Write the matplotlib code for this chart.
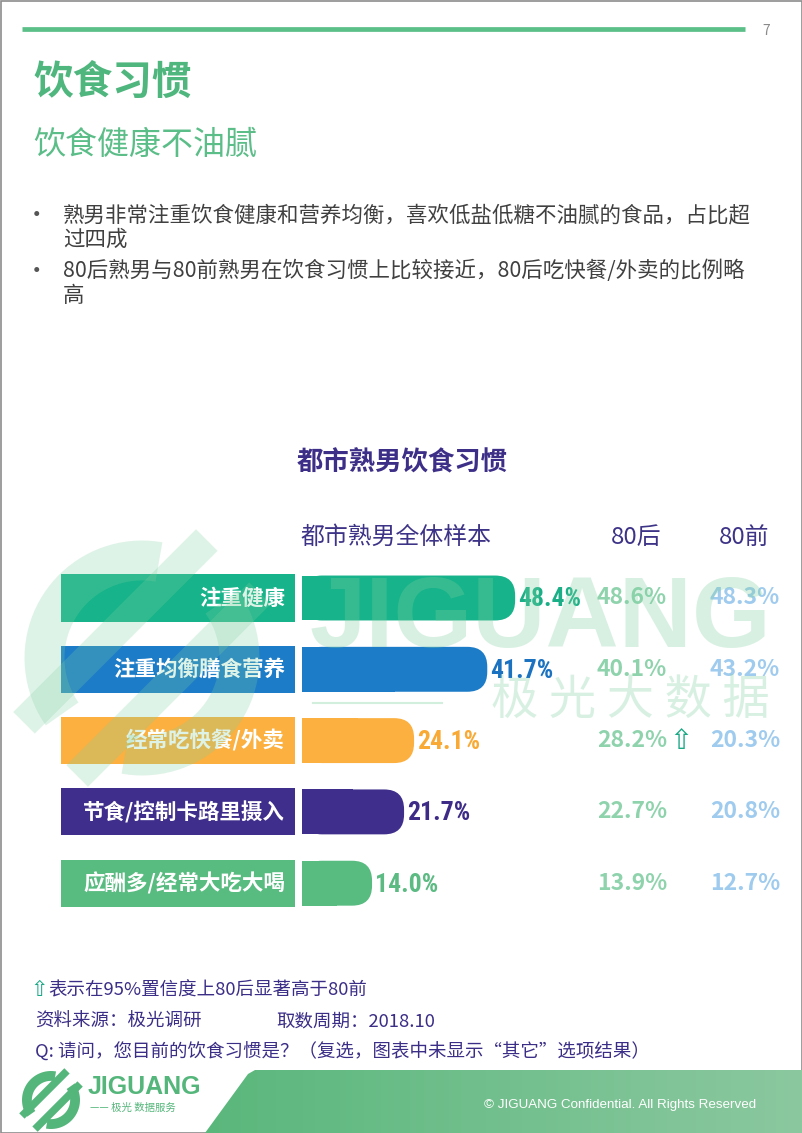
import numpy as np
import matplotlib
matplotlib.use("Agg")
import matplotlib.pyplot as plt
from matplotlib import font_manager as fm
from matplotlib import transforms as mtransforms
from matplotlib.patches import FancyBboxPatch, Rectangle, Polygon

# ---- data ----
categories = ["注重健康", "注重均衡膳食营养", "经常吃快餐/外卖", "节食/控制卡路里摄入", "应酬多/经常大吃大喝"]
total = [48.4, 41.7, 24.1, 21.7, 14.0]
post80 = [48.6, 40.1, 28.2, 22.7, 13.9]
pre80 = [48.3, 43.2, 20.3, 20.8, 12.7]
significant = [False, False, True, False, False]
bar_colors = ["#17b38a", "#1c7cc7", "#fbb040", "#3f2e8b", "#58bb80"]
value_colors = ["#1aaf87", "#1a72c1", "#f8aa35", "#3d2b87", "#5cba83"]

bullets = [["熟男非常注重饮食健康和营养均衡，喜欢低盐低糖不油腻的食品，占比超", "过四成"],
           ["80后熟男与80前熟男在饮食习惯上比较接近，80后吃快餐/外卖的比例略", "高"]]
headers = ["都市熟男全体样本", "80后", "80前"]
notes = ["表示在95%置信度上80后显著高于80前", "资料来源：极光调研", "取数周期：2018.10",
         "Q: 请问，您目前的饮食习惯是？（复选，图表中未显示“其它”选项结果）"]

W, H = 802, 1133
CJK = ["Noto Sans CJK SC", "DejaVu Sans"]
plt.rcParams["font.family"] = CJK


def pick_font(cands):
    for c in cands:
        try:
            fm.findfont(fm.FontProperties(family=c), fallback_to_default=False)
            return c
        except ValueError:
            pass
    return "DejaVu Sans"


NARROW = pick_font(["Roboto Condensed", "Liberation Sans Narrow", "DejaVu Sans Condensed", "Liberation Sans"])

fig = plt.figure(figsize=(W / 100, H / 100), dpi=100)
page = fig.add_axes([0, 0, 1, 1])
page.set_xlim(0, W); page.set_ylim(H, 0); page.axis("off")

# page frame + header rule
page.add_patch(Rectangle((0.5, 0.5), W - 1, H - 1, fill=False, ec="#8c8c8c", lw=1.2))
page.plot([22, 745], [29, 29], color="#5bbf88", lw=3.4, solid_capstyle="butt")
page.text(766, 31, "7", ha="center", va="center", fontsize=10, color="#8a8a8a")

page.text(33, 82, "饮食习惯", fontsize=28.5, weight=900, color="#4fb67e", va="center")
page.text(33, 145, "饮食健康不油腻", fontsize=23, color="#5bbd87", va="center")

y = 215
for lines in bullets:
    page.text(37, y, "•", fontsize=17, color="#555555", va="center", ha="center")
    for ln in lines:
        page.text(63, y, ln, fontsize=15.45, color="#404040", va="center")
        y += 25
    y += 6

page.text(402, 463, "都市熟男饮食习惯", fontsize=19, weight=900, color="#3d2f88",
          ha="center", va="center")
page.text(300, 537, headers[0], fontsize=17.2, color="#3d3387", va="center")
page.text(636, 537, headers[1], fontsize=17.2, color="#3d3387", va="center", ha="center")
page.text(744, 537, headers[2], fontsize=17.2, color="#3d3387", va="center", ha="center")

# ---- chart axes: x in %, y in rows ----
ROW0, PITCH = 598, 71.3
ZERO_PX, PX_PER_PCT, BAR_START_PX = 313.8, 4.16, 302
top_px = ROW0 - 0.5 * PITCH
n = len(categories)
chart = fig.add_axes([0, 1 - (top_px + n * PITCH) / H, 1, n * PITCH / H], zorder=2)
chart.patch.set_alpha(0)
chart.set_xlim(-ZERO_PX / PX_PER_PCT, (W - ZERO_PX) / PX_PER_PCT)
chart.set_ylim(n - 0.5, -0.5)
chart.axis("off")
base = (BAR_START_PX - ZERO_PX) / PX_PER_PCT
bar_h, box_h = 0.63, 0.66
aspect = PX_PER_PCT / PITCH
ypos = np.arange(n)

chart.barh(ypos, [(v - base) / 2 for v in total], left=base, height=bar_h, color=bar_colors)
for i, v in enumerate(total):
    chart.add_patch(FancyBboxPatch((base, i - bar_h / 2), v - base, bar_h,
                                   boxstyle="round,pad=0,rounding_size=4.8",
                                   mutation_aspect=aspect, fc=bar_colors[i], ec="none"))
    chart.text(v + 0.8, i + 0.02, f"{v:.1f}%", fontsize=18.5, weight="bold", family=NARROW,
               fontstretch="condensed", color=value_colors[i], ha="left", va="center")

blend = mtransforms.blended_transform_factory(page.transData, chart.transData)
for i, cat in enumerate(categories):
    chart.add_patch(Rectangle((61, i - box_h / 2), 234, box_h, transform=blend,
                              fc=bar_colors[i], ec="none", clip_on=False))
    chart.text(285, i, cat, transform=blend, fontsize=15.5, weight="bold", color="white",
               ha="right", va="center")
    chart.text(632, i, f"{post80[i]:.1f}%", transform=blend, fontsize=16.5, weight="bold",
               color="#8fd3ad", ha="center", va="center")
    chart.text(745, i, f"{pre80[i]:.1f}%", transform=blend, fontsize=16.5, weight="bold",
               color="#9fcbee", ha="center", va="center")
    if significant[i]:
        chart.text(681, i, "⇧", transform=blend, fontsize=20, color="#1aa985",
                   family="DejaVu Sans", ha="center", va="center")


# ---- logo shapes ----
def logo_polys(cx, cy, s):
    out = []
    for a0 in (80, 260):
        t = np.radians(np.linspace(a0, a0 + 135, 40))
        pts = np.r_[np.c_[0.5 * np.cos(t), 0.5 * np.sin(t)],
                    np.c_[0.33 * np.cos(t[::-1]), 0.33 * np.sin(t[::-1])]]
        out.append(pts)
    for off in (0.16, -0.16):
        d = np.array([1, 1]) / np.sqrt(2)
        nrm = np.array([-1, 1]) / np.sqrt(2)
        c = nrm * off
        w = 0.065
        p = [c - d * 0.55 - nrm * w, c + d * 0.55 - nrm * w, c + d * 0.55 + nrm * w, c - d * 0.55 + nrm * w]
        out.append(np.array(p))
    return [np.c_[cx + s * p[:, 0], cy - s * p[:, 1]] for p in out]


# watermark (on top, translucent)
wm = fig.add_axes([0, 0, 1, 1], zorder=3)
wm.patch.set_alpha(0)
wm.set_xlim(0, W); wm.set_ylim(H, 0); wm.axis("off")
WM = "#7fd0a0"
for p in logo_polys(142, 658, 235):
    wm.add_patch(Polygon(p, closed=True, fc=WM, ec="none", alpha=0.25))
wm.text(540, 621, "JIGUANG", fontsize=73, weight="bold", family="Liberation Sans",
        color=WM, alpha=0.3, ha="center", va="center")
wm.plot([313, 442], [703, 703], color=WM, alpha=0.35, lw=1.5)
wm.text(630, 701, "极 光 大 数 据", fontsize=34, color=WM, alpha=0.3, ha="center", va="center")

# ---- footnotes ----
NOTE = "#3b2e87"
page.text(39, 990, "⇧", fontsize=15, color="#1aa985", family="DejaVu Sans", ha="center", va="center")
page.text(48, 990, notes[0], fontsize=13.3, color=NOTE, va="center")
page.text(35, 1022, notes[1], fontsize=13.3, color=NOTE, va="center")
page.text(276, 1022, notes[2], fontsize=13.3, color=NOTE, va="center")
page.text(35, 1052, notes[3], fontsize=13.3, color=NOTE, va="center")

# ---- footer band ----
band = Polygon([(255, 1070), (802, 1070), (802, 1133), (205, 1133), (248, 1074)], closed=True,
               fc="none", ec="none")
page.add_patch(band)
grad = np.linspace(0, 1, 256).reshape(1, -1)
cmap = matplotlib.colors.LinearSegmentedColormap.from_list("g", ["#5ab77c", "#8bc89f"])
im = page.imshow(grad, cmap=cmap, aspect="auto", extent=(205, 802, 1133, 1070), zorder=1)
im.set_clip_path(band)
page.set_xlim(0, W); page.set_ylim(H, 0)
page.text(756, 1105, "© JIGUANG Confidential. All Rights Reserved", fontsize=9.6, color="white",
          family="Liberation Sans", ha="right", va="center", zorder=2)

for p in logo_polys(51, 1100, 58):
    page.add_patch(Polygon(p, closed=True, fc="#55b67b", ec="none"))
page.text(88, 1087, "JIGUANG", fontsize=18, weight="bold", family="Liberation Sans",
          color="#55b67b", va="center")
page.text(90, 1108, "—— 极光 数据服务", fontsize=7.5, color="#55b67b", va="center")

fig.savefig("out.png", dpi=100)
